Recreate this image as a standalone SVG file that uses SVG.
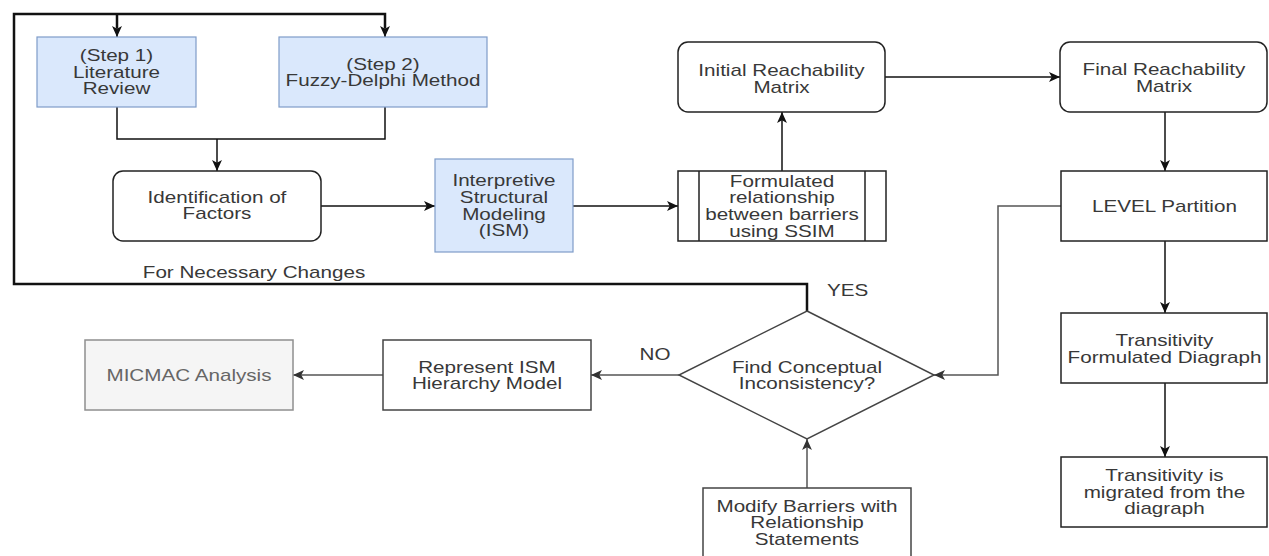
<svg xmlns="http://www.w3.org/2000/svg" width="1269" height="556" viewBox="0 0 1269 556">
<style>
text{font-family:"Liberation Sans",Arial,Helvetica,sans-serif;font-size:16px;fill:#383838;text-anchor:middle}
.box{fill:#fff;stroke:#222;stroke-width:1.5}
.blue{fill:#dae8fc;stroke:#7f9cc8;stroke-width:1.2}
.grey{fill:#f5f5f5;stroke:#8f8f8f;stroke-width:1.5}
.dk{fill:#fff;stroke:#444;stroke-width:1.5}
.ln{fill:none;stroke:#111;stroke-width:1.5}
.lg{fill:none;stroke:#555;stroke-width:1.5}
.loop{fill:none;stroke:#111;stroke-width:2.5}
</style>
<defs>
<marker id="ab" viewBox="0 0 10 10" refX="10" refY="5" markerWidth="11" markerHeight="11" markerUnits="userSpaceOnUse" orient="auto"><path d="M0,0.5 L10,5 L0,9.5 L2.5,5 Z" fill="#111"/></marker>
<marker id="ag" viewBox="0 0 10 10" refX="10" refY="5" markerWidth="11" markerHeight="11" markerUnits="userSpaceOnUse" orient="auto"><path d="M0,0.5 L10,5 L0,9.5 L2.5,5 Z" fill="#333"/></marker>
</defs>
<rect width="1269" height="556" fill="#fff"/>
<g id="connectors">
<path class="loop" d="M807,311 V284 H14 V14 H385 V28"/>
<path class="loop" d="M117,14 V28"/>
<path class="ln" d="M117,26 V37" marker-end="url(#ab)"/>
<path class="ln" d="M385,26 V37" marker-end="url(#ab)"/>
<path class="ln" d="M117,107 V139 H385 V107"/>
<path class="ln" d="M217,139 V171" marker-end="url(#ab)"/>
<path class="ln" d="M321,206 H435" marker-end="url(#ab)"/>
<path class="ln" d="M573,206 H678" marker-end="url(#ab)"/>
<path class="ln" d="M782,171 V112" marker-end="url(#ab)"/>
<path class="ln" d="M885,77 H1060" marker-end="url(#ab)"/>
<path class="ln" d="M1165,112 V171" marker-end="url(#ab)"/>
<path class="lg" d="M1061,206 H998 V375 H934" marker-end="url(#ag)"/>
<path class="ln" d="M1165,241 V313" marker-end="url(#ab)"/>
<path class="ln" d="M1165,383 V457" marker-end="url(#ab)"/>
<path class="lg" d="M807,488 V439" marker-end="url(#ag)"/>
<path class="lg" d="M679,375 H591" marker-end="url(#ag)"/>
<path class="lg" d="M383,375 H293" marker-end="url(#ag)"/>
</g>
<g id="lit">
<rect class="blue" x="37" y="37" width="159" height="70"/>
<text transform="scale(1.29 1)"><tspan x="90.3" y="61.5">(Step 1)</tspan><tspan x="90.3" y="78">Literature</tspan><tspan x="90.3" y="94">Review</tspan></text>
</g>
<g id="fuzzy">
<rect class="blue" x="279" y="37" width="208" height="70"/>
<text transform="scale(1.29 1)"><tspan x="296.9" y="70">(Step 2)</tspan><tspan x="296.9" y="86.5">Fuzzy-Delphi Method</tspan></text>
</g>
<g id="ident">
<rect class="box" x="113" y="171" width="208" height="70" rx="10"/>
<text transform="scale(1.29 1)"><tspan x="168.2" y="203">Identification of</tspan><tspan x="168.2" y="219.5">Factors</tspan></text>
</g>
<g id="ism">
<rect class="blue" x="435" y="159" width="138" height="93"/>
<text transform="scale(1.29 1)"><tspan x="390.7" y="186.5">Interpretive</tspan><tspan x="390.7" y="203">Structural</tspan><tspan x="390.7" y="219.7">Modeling</tspan><tspan x="390.7" y="236.3">(ISM)</tspan></text>
</g>
<g id="formulated">
<rect class="box" x="678" y="171" width="208" height="70"/>
<path class="box" d="M699,171 V241 M865,171 V241"/>
<text transform="scale(1.29 1)"><tspan x="606.2" y="187">Formulated</tspan><tspan x="606.2" y="203.5">relationship</tspan><tspan x="606.2" y="220">between barriers</tspan><tspan x="606.2" y="236.7">using SSIM</tspan></text>
</g>
<g id="initial">
<rect class="box" x="678" y="42" width="207" height="70" rx="10"/>
<text transform="scale(1.29 1)"><tspan x="605.8" y="76">Initial Reachability</tspan><tspan x="605.8" y="93">Matrix</tspan></text>
</g>
<g id="final">
<rect class="box" x="1060" y="42" width="207" height="70" rx="10"/>
<text transform="scale(1.29 1)"><tspan x="902.3" y="75">Final Reachability</tspan><tspan x="902.3" y="92">Matrix</tspan></text>
</g>
<g id="level">
<rect class="box" x="1061" y="171" width="206" height="70"/>
<text transform="scale(1.29 1)" x="902.7" y="211.7">LEVEL Partition</text>
</g>
<g id="transFormulated">
<rect class="box" x="1061" y="313" width="206" height="70"/>
<text transform="scale(1.29 1)"><tspan x="902.7" y="346">Transitivity</tspan><tspan x="902.7" y="363">Formulated Diagraph</tspan></text>
</g>
<g id="transMigrated">
<rect class="box" x="1061" y="457" width="206" height="70"/>
<text transform="scale(1.29 1)"><tspan x="902.7" y="481">Transitivity is</tspan><tspan x="902.7" y="497.7">migrated from the</tspan><tspan x="902.7" y="514.4">diagraph</tspan></text>
</g>
<g id="decision">
<path class="dk" d="M807,311 L934,375 L807,439 L679,375 Z"/>
<text transform="scale(1.29 1)"><tspan x="625.6" y="373">Find Conceptual</tspan><tspan x="625.6" y="389.5">Inconsistency?</tspan></text>
</g>
<g id="modify">
<rect class="dk" x="703" y="488" width="208" height="72"/>
<text transform="scale(1.29 1)"><tspan x="625.6" y="512">Modify Barriers with</tspan><tspan x="625.6" y="528.5">Relationship</tspan><tspan x="625.6" y="545">Statements</tspan></text>
</g>
<g id="represent">
<rect class="dk" x="383" y="340" width="208" height="70"/>
<text transform="scale(1.29 1)"><tspan x="377.5" y="372.6">Represent ISM</tspan><tspan x="377.5" y="389.3">Hierarchy Model</tspan></text>
</g>
<g id="micmac">
<rect class="grey" x="85" y="340" width="208" height="70"/>
<text transform="scale(1.29 1)" x="146.5" y="380.7" style="fill:#666">MICMAC Analysis</text>
</g>
<g id="labels">
<text transform="scale(1.29 1)" x="196.9" y="278">For Necessary Changes</text>
<text transform="scale(1.29 1)" x="507.8" y="360.5">NO</text>
<text transform="scale(1.29 1)" x="657" y="296">YES</text>
</g>
</svg>
